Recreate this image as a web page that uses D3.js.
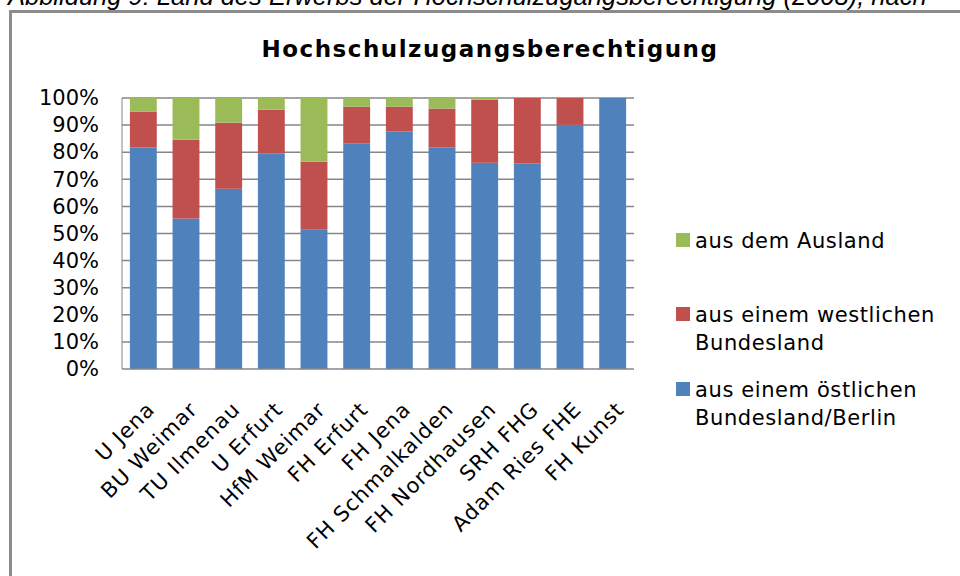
<!DOCTYPE html>
<html>
<head>
<meta charset="utf-8">
<script src="https://cdn.jsdelivr.net/npm/d3@7"></script>
<style>
  html, body { margin: 0; padding: 0; background: #fff; }
  svg { display: block; }
</style>
</head>
<body>
<svg id="chart" width="960" height="576"></svg>
<script>
const categories = ["U Jena","BU Weimar","TU Ilmenau","U Erfurt","HfM Weimar","FH Erfurt","FH Jena","FH Schmalkalden","FH Nordhausen","SRH FHG","Adam Ries FHE","FH Kunst"];
const ostValues = [81.7, 55.5, 66.5, 79.6, 51.4, 83.3, 87.7, 81.8, 76.1, 75.9, 90.1, 100];
const westValues = [13.3, 29.1, 24.4, 16.1, 25.1, 13.5, 9.1, 14.3, 23.3, 24.1, 9.9, 0];
const auslandValues = [5.0, 15.4, 9.1, 4.3, 23.5, 3.2, 3.2, 3.9, 0.6, 0, 0, 0];
const legendLines = [["aus dem Ausland"], ["aus einem westlichen", "Bundesland"], ["aus einem östlichen", "Bundesland/Berlin"]];
const yTicks = [0, 10, 20, 30, 40, 50, 60, 70, 80, 90, 100];
const titleText = "Hochschulzugangsberechtigung";
const captionText = "Abbildung 9: Land des Erwerbs der Hochschulzugangsberechtigung (2008), nach";

const colors = ["#4F81BD", "#C0504D", "#9BBB59"];
const gridColor = "#868686";
const FONT = "'DejaVu Sans', sans-serif";

const svg = d3.select("#chart");

// caption (cut off at top, as in the reference)
svg.append("text")
  .attr("x", 8).attr("y", 5)
  .attr("font-family", "'Liberation Sans', Arial, sans-serif")
  .attr("font-style", "italic")
  .attr("font-size", 25.5)
  .attr("fill", "#000")
  .text(captionText);

// frame
svg.append("rect")
  .attr("x", 10.5).attr("y", 11.5)
  .attr("width", 1000).attr("height", 700)
  .attr("fill", "none")
  .attr("stroke", "#8c8c8c")
  .attr("stroke-width", 3);

// title
svg.append("text")
  .attr("x", 490).attr("y", 57)
  .attr("text-anchor", "middle")
  .attr("font-family", FONT)
  .attr("font-weight", "bold")
  .attr("font-size", 23)
  .attr("letter-spacing", 1.5)
  .text(titleText);

const plot = { left: 122, right: 634, top: 98, bottom: 369 };

const x = d3.scaleBand()
  .domain(categories)
  .range([plot.left, plot.right])
  .paddingInner(0.37)
  .paddingOuter(0.185);

const y = d3.scaleLinear()
  .domain([0, 100])
  .range([plot.bottom, plot.top]);

// gridlines
svg.append("g")
  .selectAll("line")
  .data(yTicks.filter(t => t > 0))
  .join("line")
  .attr("x1", plot.left).attr("x2", plot.right)
  .attr("y1", d => y(d)).attr("y2", d => y(d))
  .attr("stroke", gridColor)
  .attr("stroke-width", 1.5);

// stacked data
const rows = categories.map((c, i) => ({ cat: c, s0: ostValues[i], s1: westValues[i], s2: auslandValues[i] }));
const stacked = d3.stack().keys(["s0", "s1", "s2"])(rows);

svg.append("g")
  .selectAll("g")
  .data(stacked)
  .join("g")
  .attr("fill", (d, i) => colors[i])
  .selectAll("rect")
  .data(d => d)
  .join("rect")
  .attr("x", d => x(d.data.cat))
  .attr("width", x.bandwidth())
  .attr("y", d => y(d[1]))
  .attr("height", d => Math.max(0, y(d[0]) - y(d[1])));

// axes lines
svg.append("line")
  .attr("x1", plot.left).attr("x2", plot.right)
  .attr("y1", y(0)).attr("y2", y(0))
  .attr("stroke", gridColor).attr("stroke-width", 1.5);
svg.append("line")
  .attr("x1", plot.left).attr("x2", plot.left)
  .attr("y1", y(0)).attr("y2", y(100))
  .attr("stroke", gridColor).attr("stroke-width", 1);

// y axis labels
const yAxis = d3.axisLeft(y).tickValues(yTicks).tickFormat(d => d + "%").tickSize(0).tickPadding(23);
const yg = svg.append("g").attr("transform", `translate(${plot.left},0)`).call(yAxis);
yg.select(".domain").remove();
yg.selectAll("text")
  .attr("font-family", FONT)
  .attr("font-size", 21)
  .attr("fill", "#000");

// x axis labels
const xAxis = d3.axisBottom(x).tickSize(0).tickPadding(0);
const xg = svg.append("g").attr("transform", `translate(0,${plot.bottom})`).call(xAxis);
xg.select(".domain").remove();
xg.selectAll(".tick text")
  .attr("font-family", FONT)
  .attr("font-size", 21)
  .attr("letter-spacing", 1)
  .attr("fill", "#000")
  .attr("text-anchor", "end")
  .attr("y", 0).attr("dy", "0.72em")
  .attr("transform", "translate(2,31) rotate(-45)");

// legend
const legend = svg.append("g");
const legendY = [233, 307, 382];
const legendColors = [colors[2], colors[1], colors[0]];
legendLines.forEach((lines, i) => {
  legend.append("rect")
    .attr("x", 676).attr("y", legendY[i])
    .attr("width", 14).attr("height", 14)
    .attr("fill", legendColors[i]);
  const t = legend.append("text")
    .attr("font-family", FONT)
    .attr("font-size", 21)
    .attr("letter-spacing", 0.6)
    .attr("fill", "#000");
  lines.forEach((ln, j) => {
    t.append("tspan")
      .attr("x", 695)
      .attr("y", legendY[i] + 7 + j * 28)
      .attr("dy", "0.36em")
      .text(ln);
  });
});
</script>
</body>
</html>
